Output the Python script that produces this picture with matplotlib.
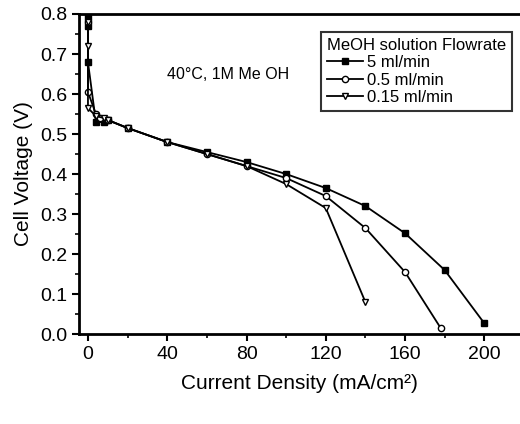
import matplotlib
matplotlib.use("Agg")
import matplotlib.pyplot as plt
from matplotlib.ticker import MultipleLocator

plt.rcParams['font.family'] = ['Liberation Sans', 'DejaVu Sans']

# 5 ml/min
x5 = [0, 0, 0, 4, 8, 10, 20, 40, 60, 80, 100, 120, 140, 160, 180, 200]
y5 = [0.79, 0.77, 0.68, 0.53, 0.53, 0.535, 0.515, 0.48, 0.455, 0.43, 0.40, 0.365, 0.32, 0.252, 0.16, 0.027]
# 0.5 ml/min
x05 = [0, 0, 4, 6, 10, 20, 40, 60, 80, 100, 120, 140, 160, 178]
y05 = [0.78, 0.605, 0.55, 0.54, 0.535, 0.515, 0.48, 0.45, 0.42, 0.39, 0.345, 0.265, 0.155, 0.015]
# 0.15 ml/min
x015 = [0, 0, 0, 4, 8, 10, 20, 40, 60, 80, 100, 120, 140]
y015 = [0.78, 0.72, 0.565, 0.545, 0.54, 0.535, 0.515, 0.48, 0.45, 0.42, 0.375, 0.315, 0.08]

labels = ["5 ml/min", "0.5 ml/min", "0.15 ml/min"]

fig = plt.figure(figsize=(5.2, 4.24), dpi=100)
ax = fig.add_axes([0.152, 0.212, 0.848, 0.755])

ax.plot(x5, y5, color='black', lw=1.3, marker='s', ms=4.5, mfc='black', label=labels[0])
ax.plot(x05, y05, color='black', lw=1.3, marker='o', ms=4.5, mfc='white', label=labels[1])
ax.plot(x015, y015, color='black', lw=1.3, marker='v', ms=5, mfc='white', label=labels[2])

ax.set_xlim(-4.5, 218)
ax.set_ylim(0, 0.8)
ax.xaxis.set_major_locator(MultipleLocator(40))
ax.xaxis.set_minor_locator(MultipleLocator(20))
ax.yaxis.set_major_locator(MultipleLocator(0.1))
ax.yaxis.set_minor_locator(MultipleLocator(0.05))
ax.tick_params(which='major', direction='out', length=5, width=1.5, labelsize=14)
ax.tick_params(which='minor', direction='out', length=3, width=1.2)
ax.set_yticks([0.0, 0.1, 0.2, 0.3, 0.4, 0.5, 0.6, 0.7, 0.8])
ax.set_yticklabels(["0.0", "0.1", "0.2", "0.3", "0.4", "0.5", "0.6", "0.7", "0.8"])

for s in ['left', 'bottom', 'top']:
    ax.spines[s].set_linewidth(2)
ax.spines['right'].set_visible(False)

ax.set_xlabel("Current Density (mA/cm²)", fontsize=15, labelpad=8)
ax.set_ylabel("Cell Voltage (V)", fontsize=15, labelpad=5)

ax.text(40, 0.65, "40°C, 1M Me OH", fontsize=11.5, ha='left', va='center')

leg = ax.legend(title="MeOH solution Flowrate", loc='upper right',
                bbox_to_anchor=(1.0, 0.97), fontsize=12, title_fontsize=12,
                frameon=True, fancybox=False, edgecolor='black',
                handlelength=2.2, handletextpad=0.2, borderpad=0.35,
                labelspacing=0.15)
leg.get_frame().set_linewidth(1.5)
leg._legend_box.align = "left"

fig.savefig("out.png", dpi=100)
